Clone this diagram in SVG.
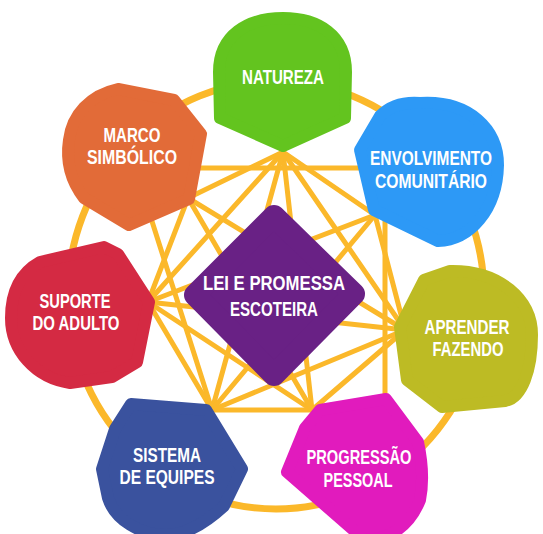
<svg xmlns="http://www.w3.org/2000/svg" width="543" height="534" viewBox="0 0 543 534">
<style>
.ln{stroke:#fbb82a;stroke-width:5;stroke-linecap:round;fill:none}
.nd{stroke-linejoin:round;stroke-width:12}
.t{font-family:"Liberation Sans",Arial,sans-serif;font-weight:bold;font-size:19.5px;fill:#fff;text-anchor:middle}
</style>
<rect width="543" height="534" fill="#fff"/>
<g id="connectors">
<ellipse cx="276" cy="295" rx="208" ry="214" class="ln" style="stroke-width:7"/>
<line class="ln" x1="283" y1="152" x2="375" y2="215"/>
<line class="ln" x1="283" y1="152" x2="405" y2="330"/>
<line class="ln" x1="283" y1="152" x2="312" y2="410"/>
<line class="ln" x1="283" y1="152" x2="212" y2="410"/>
<line class="ln" x1="283" y1="152" x2="148" y2="302"/>
<line class="ln" x1="283" y1="152" x2="188" y2="198"/>
<line class="ln" x1="180" y1="168" x2="372" y2="168"/>
<line class="ln" x1="375" y1="215" x2="405" y2="330"/>
<line class="ln" x1="385" y1="215" x2="385" y2="404"/>
<line class="ln" x1="375" y1="215" x2="212" y2="410"/>
<line class="ln" x1="375" y1="215" x2="148" y2="302"/>
<line class="ln" x1="405" y1="330" x2="312" y2="410"/>
<line class="ln" x1="405" y1="330" x2="212" y2="410"/>
<line class="ln" x1="405" y1="330" x2="148" y2="302"/>
<line class="ln" x1="405" y1="330" x2="188" y2="198"/>
<line class="ln" x1="312" y1="410" x2="212" y2="410"/>
<line class="ln" x1="312" y1="410" x2="148" y2="302"/>
<line class="ln" x1="312" y1="410" x2="188" y2="198"/>
<line class="ln" x1="212" y1="410" x2="148" y2="302"/>
<line class="ln" x1="212" y1="410" x2="150" y2="215"/>
<line class="ln" x1="148" y1="302" x2="188" y2="198"/>
</g>
<g id="natureza">
<path class="nd" fill="#63c41f" stroke="#63c41f" d="M220,118 L219,72 C219,35 248,18 283,18 C318,18 346,35 346,72 L345,118 L283,146 Z"/>
<text class="t" x="283" y="84" textLength="82" lengthAdjust="spacingAndGlyphs">NATUREZA</text>
</g>
<g id="envolvimento">
<path class="nd" fill="#2d99f6" stroke="#2d99f6" d="M360,150 L380,116 Q395,101 420,103 C470,100 498,130 498,165 C497,210 470,240 438,241 L374,210 Z"/>
<text class="t" x="431" y="165" textLength="122" lengthAdjust="spacingAndGlyphs">ENVOLVIMENTO</text>
<text class="t" x="431" y="188" textLength="112" lengthAdjust="spacingAndGlyphs">COMUNITÁRIO</text>
</g>
<g id="aprender">
<path class="nd" fill="#bdbb24" stroke="#bdbb24" d="M400,327 L424,280 L450,271 C500,270 532,300 532,335 C532,370 522,398 505,401 L442,407 L407,380 Z"/>
<text class="t" x="467" y="334" textLength="85" lengthAdjust="spacingAndGlyphs">APRENDER</text>
<text class="t" x="468" y="356" textLength="71" lengthAdjust="spacingAndGlyphs">FAZENDO</text>
</g>
<g id="progressao">
<path class="nd" fill="#e11bbd" stroke="#e11bbd" d="M320,410 L386,399 L418,442 C424,470 422,490 420,500 C410,525 390,540 365,540 L287,472 L305,428 Z"/>
<text class="t" x="359" y="464" textLength="105" lengthAdjust="spacingAndGlyphs">PROGRESSÃO</text>
<text class="t" x="358" y="487" textLength="69" lengthAdjust="spacingAndGlyphs">PESSOAL</text>
</g>
<g id="sistema">
<path class="nd" fill="#3a529e" stroke="#3a529e" d="M131,404 L206,410 L242,469 L224,506 C200,528 180,535 167,535 C140,535 115,520 108,498 L102,469 L115,429 Z"/>
<text class="t" x="167" y="462" textLength="68" lengthAdjust="spacingAndGlyphs">SISTEMA</text>
<text class="t" x="167" y="484" textLength="95" lengthAdjust="spacingAndGlyphs">DE EQUIPES</text>
</g>
<g id="suporte">
<path class="nd" fill="#d42a43" stroke="#d42a43" d="M104,247 L118,254 L149,302 L137,362 L112,377 L70,383 C35,378 11,350 11,318 C11,290 22,272 40,262 Z"/>
<text class="t" x="75" y="308" textLength="71" lengthAdjust="spacingAndGlyphs">SUPORTE</text>
<text class="t" x="76" y="330" textLength="87" lengthAdjust="spacingAndGlyphs">DO ADULTO</text>
</g>
<g id="marco">
<path class="nd" fill="#e26b38" stroke="#e26b38" d="M118,89 L174,100 L201,134 L189,199 L129,225 L84,198 C70,180 66,160 69,140 C72,115 90,95 118,89 Z"/>
<text class="t" x="132" y="142" textLength="57" lengthAdjust="spacingAndGlyphs">MARCO</text>
<text class="t" x="132" y="164" textLength="90" lengthAdjust="spacingAndGlyphs">SIMBÓLICO</text>
</g>
<g id="lei">
<path fill="#692185" stroke="#692185" stroke-width="22" stroke-linejoin="round" d="M195,295 L274,216 L354,294 L274,375 Z"/>
<text class="t" x="274" y="290" textLength="142" lengthAdjust="spacingAndGlyphs">LEI E PROMESSA</text>
<text class="t" x="274" y="316" textLength="88" lengthAdjust="spacingAndGlyphs">ESCOTEIRA</text>
</g>
</svg>
